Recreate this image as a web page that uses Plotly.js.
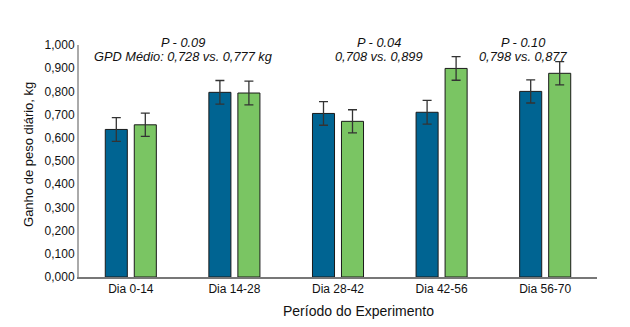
<!DOCTYPE html>
<html>
<head>
<meta charset="utf-8">
<script src="https://cdn.plot.ly/plotly-3.0.1.min.js"></script>
<style>html,body{margin:0;padding:0;background:#fff;}#chart{width:630px;height:327px;}</style>
</head>
<body>
<div id="chart"></div>
<script>
const categories = ["Dia 0-14", "Dia 14-28", "Dia 28-42", "Dia 42-56", "Dia 56-70"];
const seriesA = [0.636, 0.796, 0.705, 0.710, 0.800];
const seriesB = [0.656, 0.793, 0.671, 0.899, 0.878];
const errA = [0.051, 0.051, 0.051, 0.051, 0.050];
const errB = [0.050, 0.051, 0.050, 0.051, 0.050];
const annotP = ["P - 0.09", "P - 0.04", "P - 0.10"];
const annotGPD = ["GPD Médio: 0,728 vs. 0,777 kg", "0,708 vs. 0,899", "0,798 vs. 0,877"];
const annotX = [0.5, 2.4, 3.79];
const xTitle = "Período do Experimento";
const yTitle = "Ganho de peso diário, kg";

const font = "Liberation Sans, Arial, sans-serif";
const errStyle = {type: 'data', visible: true, color: '#333', thickness: 1.3, width: 4.5};

const traces = [
  {type: 'bar', x: categories, y: seriesA, name: 'A',
   marker: {color: '#006492', line: {color: '#1a1a1a', width: 1}},
   error_y: Object.assign({array: errA}, errStyle)},
  {type: 'bar', x: categories, y: seriesB, name: 'B',
   marker: {color: '#7AC563', line: {color: '#1a1a1a', width: 1}},
   error_y: Object.assign({array: errB}, errStyle)}
];

const annotations = [];
annotP.forEach((t, i) => {
  annotations.push({x: annotX[i], xref: 'x', y: 1.053, yref: 'paper', text: '<i>' + t + '</i>',
    showarrow: false, font: {family: font, size: 12.8, color: '#111'}});
  annotations.push({x: annotX[i], xref: 'x', y: 0.99, yref: 'paper', text: '<i>' + annotGPD[i] + '</i>',
    showarrow: false, font: {family: font, size: 12.8, color: '#111'}});
});
annotations.push({x: 0.539, xref: 'paper', y: -0.145, yref: 'paper', yanchor: 'middle', text: xTitle,
  showarrow: false, font: {family: font, size: 14, color: '#111'}});
annotations.push({x: -0.098, xref: 'paper', y: 0.527, yref: 'paper', xanchor: 'center', yanchor: 'middle',
  text: yTitle, textangle: -90, showarrow: false, font: {family: font, size: 13, color: '#111'}});

const layout = {
  width: 630, height: 327,
  margin: {l: 79, r: 33, t: 45, b: 50},
  paper_bgcolor: '#fff', plot_bgcolor: '#fff',
  showlegend: false,
  barmode: 'group', bargap: 0.44, bargroupgap: 0.24,
  separators: ',.',
  font: {family: font, size: 12, color: '#111'},
  xaxis: {type: 'category', range: [-0.5, 4.5], showline: true, linecolor: '#777', linewidth: 1.5,
    ticks: '', showgrid: false, zeroline: false, tickfont: {size: 12, family: font}},
  yaxis: {range: [0, 1], dtick: 0.1, tickformat: '.3f', showline: true, linecolor: '#aaa', linewidth: 2,
    ticks: '', showgrid: false, zeroline: false, tickfont: {size: 12, family: font}},
  annotations: annotations
};

Plotly.newPlot('chart', traces, layout, {displayModeBar: false, staticPlot: true});
</script>
</body>
</html>
